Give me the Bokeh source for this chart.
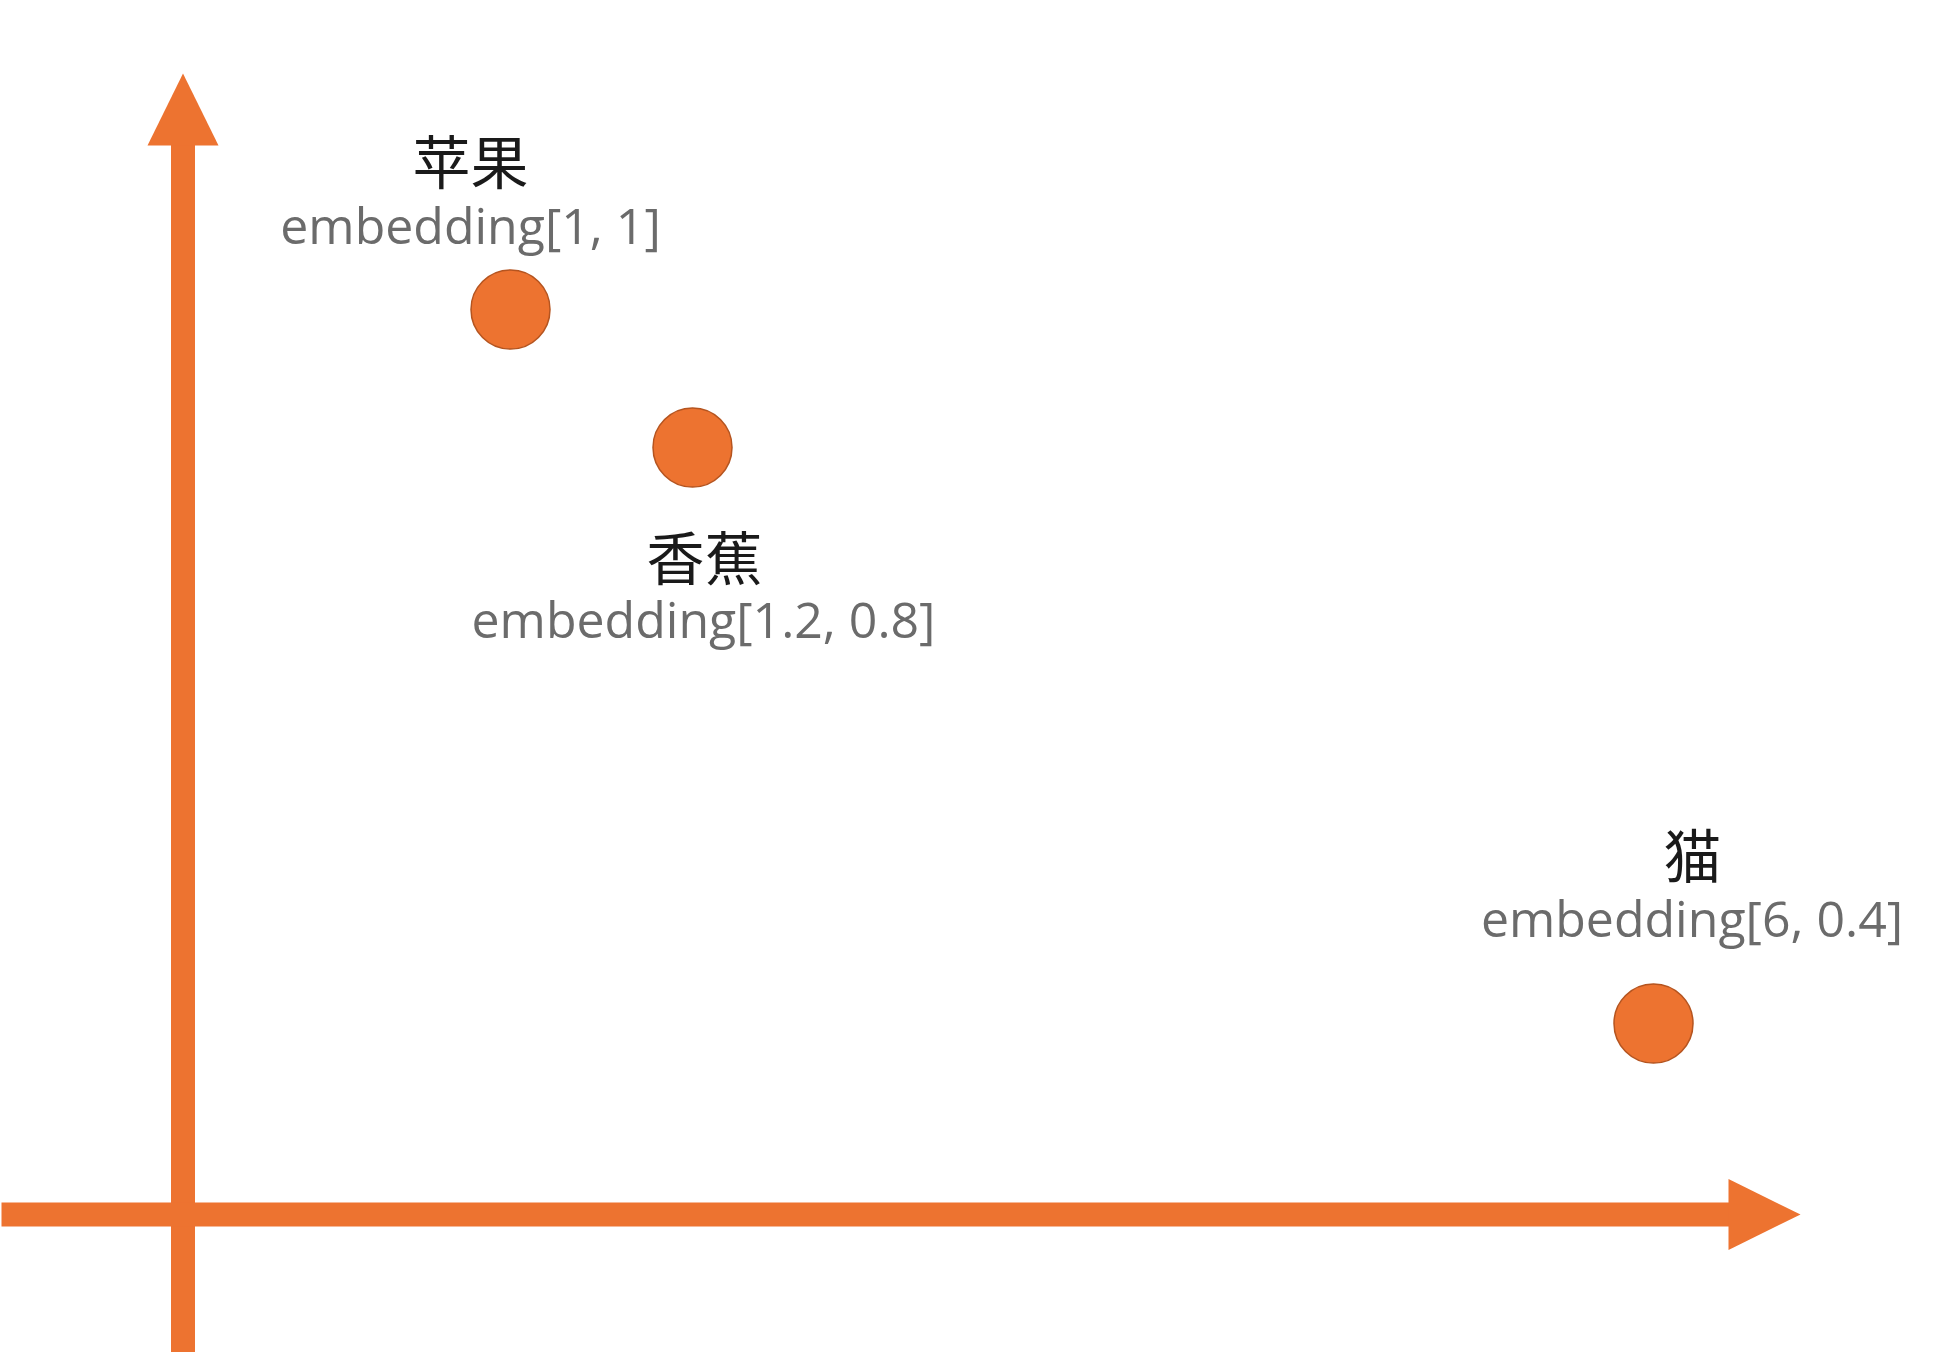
from bokeh.plotting import figure
from bokeh.models import ColumnDataSource, Range1d
from bokeh.core.properties import value
from bokeh.embed import file_html
from bokeh.resources import INLINE

# ---- data (chart units: axis origin at 0,0; 1 unit = 100 px) ----
words = ["苹果", "香蕉", "猫"]
embed_labels = ["embedding[1, 1]", "embedding[1.2, 0.8]", "embedding[6, 0.4]"]
point_x = [3.275, 5.095, 14.705]
point_y = [9.05, 7.67, 1.91]
word_label_x = [2.875, 5.215, 15.095]
word_label_y = [10.56, 6.60, 3.62]
embed_label_x = [2.875, 5.205, 15.09]
embed_label_y = [9.90, 5.96, 2.97]

ORANGE = "#ED7330"
EDGE = "#B5541F"

W, H = 1924, 1352
x0, y_top = -1.825, 12.14
p = figure(width=W, height=H, output_backend="svg", toolbar_location=None,
           x_range=Range1d(x0, x0 + W / 100), y_range=Range1d(y_top - H / 100, y_top),
           min_border=0, outline_line_color=None, background_fill_color="white",
           border_fill_color="white")
p.axis.visible = False
p.grid.visible = False

# axes with arrowheads
shaft = 0.12
v_tip, v_base, v_bottom = 11.41, 10.69, -1.6
h_tip, h_base, h_left = 16.175, 15.455, -1.815
head_half = 0.355
p.quad(left=[-shaft], right=[shaft], bottom=[v_bottom], top=[v_base + 0.01],
       fill_color=ORANGE, line_color=None)
p.quad(left=[h_left], right=[h_base + 0.01], bottom=[-shaft], top=[shaft],
       fill_color=ORANGE, line_color=None)
p.patches(xs=[[-head_half, head_half, 0], [h_base, h_base, h_tip]],
          ys=[[v_base, v_base, v_tip], [-head_half, head_half, 0]],
          fill_color=ORANGE, line_color=None)

src = ColumnDataSource(dict(px=point_x, py=point_y, w=words, e=embed_labels,
                            wx=word_label_x, wy=word_label_y,
                            ex=embed_label_x, ey=embed_label_y))
p.scatter("px", "py", source=src, size=79, fill_color=ORANGE,
          line_color=EDGE, line_width=1.5)
p.text("wx", "wy", text="w", source=src, text_align="center",
       text_baseline="middle", text_font=value("Noto Sans CJK SC"),
       text_font_size="58px", text_color="#1A1A1A")
p.text("ex", "ey", text="e", source=src, text_align="center",
       text_baseline="alphabetic", text_font=value("Open Sans"),
       text_font_size="50px", text_color="#6B6B6B")

open("out.html", "w").write(file_html(p, INLINE))
